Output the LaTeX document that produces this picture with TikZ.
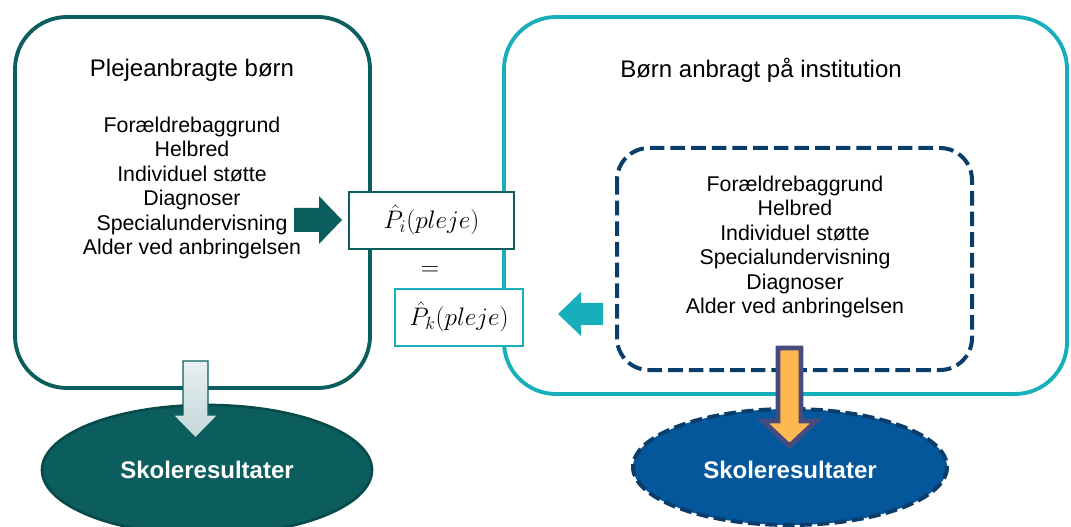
\RequirePackage{fix-cm}
\documentclass[tikz,border=0pt]{standalone}
\usepackage{fontspec}
\setmainfont{Liberation Sans}
\definecolor{dteal}{HTML}{0C5E5E}
\definecolor{dtealb}{HTML}{084A4A}
\definecolor{cyanb}{HTML}{17AFBB}
\definecolor{navy}{HTML}{0B3D6B}
\definecolor{blfill}{HTML}{05579B}
\definecolor{orangef}{HTML}{FDB84F}
\definecolor{slate}{HTML}{474B7E}
\definecolor{lgtop}{HTML}{E8F0F2}
\definecolor{lgbot}{HTML}{C3D7DA}
\tikzset{
  titletext/.style={font=\fontsize{18}{21}\selectfont, text=black},
  listtext/.style={font=\fontsize{16}{18.3}\selectfont, align=center, text=black},
  resulttext/.style={font=\fontsize{18}{21}\selectfont\bfseries, text=white},
  mathtext/.style={font=\fontsize{19}{22}\selectfont, inner sep=1pt},
  bigbox/.style={line width=2.9pt, rounded corners=39pt},
  pbox/.style={fill=white, line width=2pt},
}
\begin{document}
\begin{tikzpicture}[x=0.75pt,y=-0.75pt]
\useasboundingbox (0,0) rectangle (1071,527);
% main boxes
\draw[bigbox, draw=dteal] (15,17) rectangle (370,388);
\draw[bigbox, draw=cyanb] (504,17) rectangle (1067,394);
\draw[navy, line width=3pt, dash pattern=on 11pt off 4.5pt, rounded corners=24pt] (617,148) rectangle (972,370);
% ellipses
\draw[fill=dteal, draw=dtealb, line width=2pt] (207,470) ellipse [x radius=165, y radius=65];
\draw[fill=blfill, draw=navy, line width=3pt, dash pattern=on 9pt off 4pt] (790,467) ellipse [x radius=157, y radius=58];
% estimate boxes
\draw[pbox, draw=dteal] (349,192) rectangle (514,249);
\draw[pbox, draw=cyanb] (395,289) rectangle (523,346);
\node[mathtext] (pi) at (431.5,220) {$\hat{P}_i(pleje)$};
\node[mathtext] (pk) at (459,317) {$\hat{P}_k(pleje)$};
\node[mathtext] (eq) at (430,271) {$=$};
% titles and lists
\node[titletext] (t1) at (192,70) {Plejeanbragte børn};
\node[titletext] (t2) at (761,70) {Børn anbragt på institution};
\node[listtext] (l1) at (192,188) {Forældrebaggrund\\Helbred\\Individuel støtte\\Diagnoser\\Specialundervisning\\Alder ved anbringelsen};
\node[listtext] (l2) at (795,247) {Forældrebaggrund\\Helbred\\Individuel støtte\\Specialundervisning\\Diagnoser\\Alder ved anbringelsen};
\node[resulttext] (r1) at (207,470) {Skoleresultater};
\node[resulttext] (r2) at (790,470) {Skoleresultater};
% block arrows
\fill[dteal] (294,208) -- (319,208) -- (319,196) -- (342,220) -- (319,244) -- (319,232) -- (294,232) -- cycle;
\fill[cyanb] (603,303) -- (581,303) -- (581,292) -- (558,314) -- (581,336) -- (581,325) -- (603,325) -- cycle;
\draw[draw=dteal, line width=0.9pt, top color=lgtop, bottom color=lgbot] (183,361) -- (208,361) -- (208,415) -- (218,415) -- (195.5,438) -- (173,415) -- (183,415) -- cycle;
\draw[draw=slate, fill=orangef, line width=3.6pt] (778,348) -- (801,348) -- (801,421) -- (816,421) -- (789.5,446) -- (763,421) -- (778,421) -- cycle;
\end{tikzpicture}
\end{document}
